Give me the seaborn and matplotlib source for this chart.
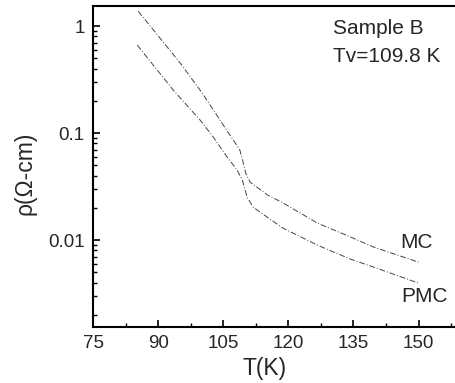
import numpy as np
import pandas as pd
import matplotlib
matplotlib.use('Agg')
from matplotlib import pyplot as plt
import seaborn as sns

sns.set_style('ticks')
plt.rcParams['font.family'] = ['Liberation Sans', 'DejaVu Sans']

# Resistivity vs temperature
mc_T = [85.4, 95.1, 100.2, 102.7, 105.0, 107.3, 108.8, 109.5, 110.2, 111.2, 115.2,
        118.8, 126.7, 134.3, 139.6, 150.0]
mc_rho = [1.38, 0.451, 0.235, 0.165, 0.119, 0.0861, 0.070, 0.055, 0.042, 0.0348, 0.0264,
          0.0222, 0.0144, 0.0107, 0.00861, 0.00622]
pmc_T = [85.2, 93.5, 99.7, 102.7, 105.9, 108.2, 109.4, 110.5, 111.9, 115.4,
         118.8, 126.7, 134.3, 139.6, 150.0]
pmc_rho = [0.664, 0.252, 0.132, 0.0918, 0.0597, 0.0451, 0.0364, 0.0252, 0.0203, 0.0161,
           0.0129, 0.00897, 0.00664, 0.00560, 0.00396]

x_ticks = [75, 90, 105, 120, 135, 150]

mc = pd.DataFrame({'T': mc_T, 'rho': mc_rho})
pmc = pd.DataFrame({'T': pmc_T, 'rho': pmc_rho})

fig = plt.figure(figsize=(4.55, 3.83), dpi=100)
ax = fig.add_axes([0.2044, 0.1462, 0.811, 0.838])

line_kw = dict(color='#444444', linewidth=0.7, dashes=(6, 2, 1, 2))
sns.lineplot(data=mc, x='T', y='rho', ax=ax, **line_kw)
sns.lineplot(data=pmc, x='T', y='rho', ax=ax, **line_kw)

ax.set_yscale('log')
ax.set_xlim(75, 160)
ax.set_ylim(0.00154, 1.54)
ax.set_xticks(x_ticks)
ax.set_xticks(np.arange(82.5, 160, 15), minor=True)
ax.set_yticks([0.01, 0.1, 1])
ax.set_yticklabels(['0.01', '0.1', '1'])

ax.tick_params(which='both', direction='in', labelsize=13.5, color='black')
ax.tick_params(which='major', length=5, width=1.2)
ax.tick_params(which='minor', length=3, width=1.0)
ax.tick_params(axis='x', pad=6)
ax.tick_params(axis='y', pad=6)
for s in ax.spines.values():
    s.set_linewidth(1.5)
    s.set_color('black')

ax.set_xlabel('T(K)', fontsize=16.5)
ax.set_ylabel('ρ(Ω-cm)', fontsize=16.5)
ax.xaxis.set_label_coords((265 - 93) / 369, -0.095)
ax.yaxis.set_label_coords(-0.152, 0.48)

fig.text(333 / 455, 1 - 29 / 383, 'Sample B', fontsize=15, va='center')
fig.text(333 / 455, 1 - 56 / 383, 'Tv=109.8 K', fontsize=15, va='center')
fig.text(400 / 455, 1 - 242 / 383, 'MC', fontsize=15, va='center')
fig.text(401 / 455, 1 - 297 / 383, 'PMC', fontsize=15, va='center')

fig.savefig('out.png', dpi=100)
